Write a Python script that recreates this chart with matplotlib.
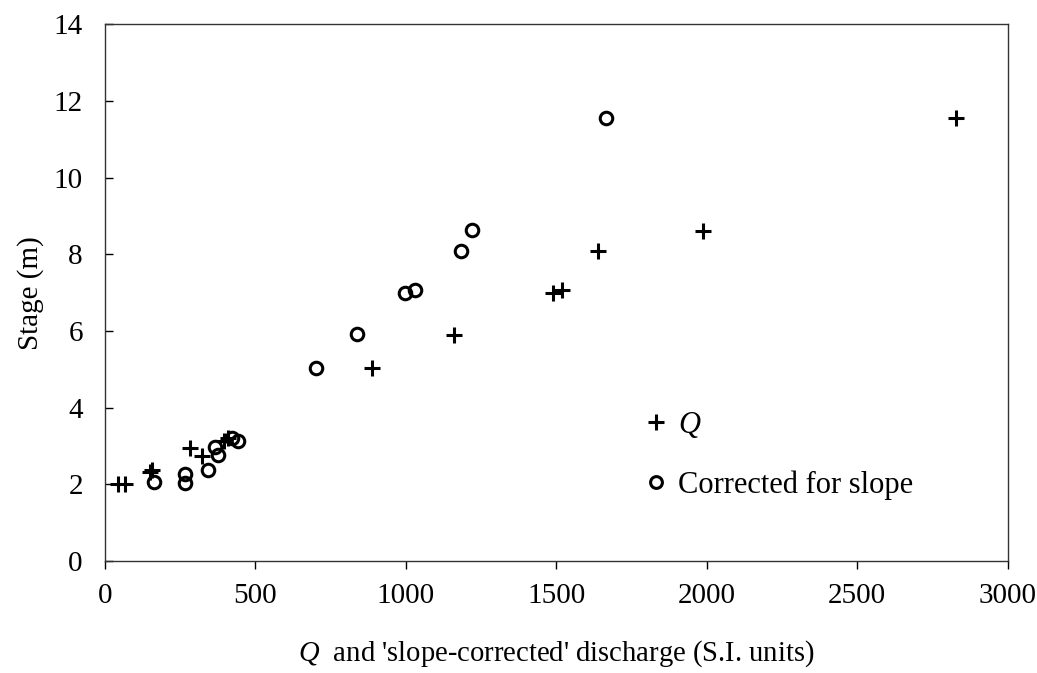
import matplotlib
matplotlib.use('Agg')
import matplotlib.pyplot as plt
from matplotlib.lines import Line2D

plt.rcParams['font.family'] = 'Liberation Serif'
plt.rcParams['mathtext.fontset'] = 'custom'
plt.rcParams['mathtext.rm'] = 'Liberation Serif'
plt.rcParams['mathtext.it'] = 'Liberation Serif:italic'

# Measured discharge Q vs stage
q_discharge = [44, 66, 150, 156, 282, 321, 395, 410, 888, 1159, 1489, 1519, 1639, 1988, 2829]
q_stage = [2.02, 2.02, 2.33, 2.38, 2.95, 2.73, 3.13, 3.22, 5.04, 5.90, 7.00, 7.08, 8.08, 8.62, 11.56]

# Slope-corrected discharge vs stage
corr_discharge = [163, 266, 266, 341, 365, 377, 421, 443, 701, 836, 997, 1030, 1183, 1218, 1664]
corr_stage = [2.05, 2.03, 2.28, 2.38, 2.97, 2.76, 3.22, 3.13, 5.04, 5.92, 7.00, 7.08, 8.10, 8.64, 11.56]

fig = plt.figure(figsize=(10.37, 6.73), dpi=100)
ax = fig.add_axes([0.1013, 0.1664, 0.8705, 0.7972])

ax.plot(q_discharge, q_stage, linestyle='none', marker='+', markersize=11,
        markeredgewidth=2.2, color='black')
ax.plot(corr_discharge, corr_stage, linestyle='none', marker='o', markersize=9,
        markeredgewidth=2.2, markerfacecolor='none', color='black')

ax.set_xlim(0, 3000)
ax.set_ylim(0, 14)
ax.set_xticks(range(0, 3001, 500))
ax.set_yticks(range(0, 15, 2))

for sp in ax.spines.values():
    sp.set_linewidth(1.0)
    sp.set_color('#333333')

ax.tick_params(axis='y', direction='in', length=6, width=1, pad=16, labelsize=21)
ax.tick_params(axis='x', direction='out', length=6, width=1, pad=10, labelsize=21)

ax.set_ylabel('Stage (m)', fontsize=21, labelpad=7)
ax.set_xlabel(r"$Q$  and 'slope-corrected' discharge (S.I. units)", fontsize=20.6, labelpad=21)

# Legend without frame
handles = [
    Line2D([], [], linestyle='none', marker='+', markersize=11, markeredgewidth=2.2, color='black'),
    Line2D([], [], linestyle='none', marker='o', markersize=8.5, markeredgewidth=2.2,
           markerfacecolor='none', color='black'),
]
ax.legend(handles, [r'$Q$', 'Corrected for slope'], loc='lower left',
          bbox_to_anchor=(0.570, 0.063), frameon=False, fontsize=22,
          handlelength=0.6, handletextpad=0.4, labelspacing=1.0)

fig.savefig('out.png', dpi=100)
